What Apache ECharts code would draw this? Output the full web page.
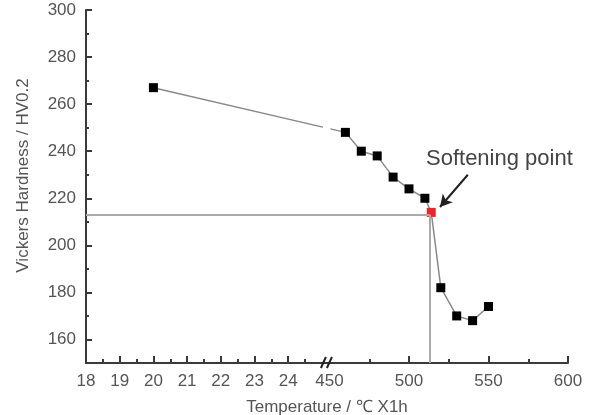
<!DOCTYPE html>
<html>
<head>
<meta charset="utf-8">
<script src="https://cdn.jsdelivr.net/npm/echarts@6/dist/echarts.min.js"></script>
<style>
  html, body { margin: 0; padding: 0; background: #fff; }
  #chart { width: 595px; height: 415px; }
</style>
</head>
<body>
<div id="chart"></div>
<script>
// temperature (°C) and hardness (HV0.2)
const temps = [20, 460, 470, 480, 490, 500, 510, 514, 520, 530, 540, 550]
const hardness = [267, 248, 240, 238, 229, 224, 220, 214, 182, 170, 168, 174]
const softIndex = 7
const softening = [513, 213]

const xMajorTicks = [19, 20, 21, 22, 23, 24, 500, 550, 600]
const xMinorTicks = [18.5, 19.5, 20.5, 21.5, 22.5, 23.5, 24.5, 475, 525, 575]
const xLabels = [18, 19, 20, 21, 22, 23, 24, 450, 500, 550, 600]
const yMajorTicks = [160, 180, 200, 220, 240, 260, 280, 300]
const yMinorTicks = [170, 190, 210, 230, 250, 270, 290]

// broken axis: 18-25 stretched, 450-600 compressed
function toU(t) {
  return t <= 25 ? (t - 18) * 33.7 : 243.5 + (t - 450) * 1.59
}
function fromU(u) {
  return u <= 240 ? u / 33.7 + 18 : (u - 243.5) / 1.59 + 450
}

const chart = echarts.init(document.getElementById('chart'))
const font = 'Liberation Sans, Arial, sans-serif'
const textColor = '#555'
const axisColor = '#3a3a3a'

const xBase = {
  type: 'value',
  min: 0,
  max: toU(600),
  position: 'bottom',
  splitLine: { show: false }
}
const yBase = {
  type: 'value',
  min: 150,
  max: 300,
  position: 'left',
  splitLine: { show: false }
}

chart.setOption({
  backgroundColor: '#fff',
  animation: false,
  grid: { left: 86, top: 10, width: toU(600), bottom: 52, outerBoundsMode: 'none', containLabel: false },
  xAxis: [
    Object.assign({}, xBase, {
      name: 'Temperature / ℃ X1h',
      nameLocation: 'middle',
      nameGap: 36,
      nameTextStyle: { fontSize: 17, color: textColor, fontFamily: font },
      axisLine: { lineStyle: { color: axisColor, width: 2 } },
      axisTick: {
        inside: true, length: 7,
        lineStyle: { color: axisColor, width: 2 },
        customValues: xMajorTicks.map(toU)
      },
      axisLabel: {
        fontSize: 17, color: textColor, fontFamily: font, margin: 10,
        customValues: xLabels.map(toU),
        formatter: v => String(Math.round(fromU(v)))
      }
    }),
    Object.assign({}, xBase, {
      axisLine: { show: false },
      axisLabel: { show: false },
      axisTick: {
        inside: true, length: 4,
        lineStyle: { color: axisColor, width: 2 },
        customValues: xMinorTicks.map(toU)
      }
    })
  ],
  yAxis: [
    Object.assign({}, yBase, {
      name: 'Vickers Hardness / HV0.2',
      nameLocation: 'middle',
      nameGap: 54,
      nameTextStyle: { fontSize: 17, color: textColor, fontFamily: font, padding: [0, 0, 0, 22] },
      axisLine: { lineStyle: { color: axisColor, width: 2 } },
      axisTick: {
        inside: true, length: 6,
        lineStyle: { color: axisColor, width: 2 },
        customValues: yMajorTicks
      },
      axisLabel: {
        fontSize: 17, color: textColor, fontFamily: font, margin: 10,
        customValues: yMajorTicks
      }
    }),
    Object.assign({}, yBase, {
      axisLine: { show: false },
      axisLabel: { show: false },
      axisTick: {
        inside: true, length: 3,
        lineStyle: { color: axisColor, width: 2 },
        customValues: yMinorTicks
      }
    })
  ],
  series: [
    {
      // guide lines to the softening point
      type: 'line',
      data: [],
      z: 1,
      markLine: {
        silent: true,
        symbol: 'none',
        label: { show: false },
        lineStyle: { color: '#aaa', width: 2, type: 'solid' },
        data: [
          [{ coord: [0, softening[1]] }, { coord: [toU(softening[0]), softening[1]] }],
          [{ coord: [toU(softening[0]), softening[1]] }, { coord: [toU(softening[0]), 150] }]
        ]
      }
    },
    {
      type: 'line',
      z: 3,
      data: temps.map((t, i) => {
        const d = { value: [toU(t), hardness[i]] }
        if (i === softIndex) d.itemStyle = { color: '#e8262b' }
        return d
      }),
      symbol: 'rect',
      symbolSize: 9,
      showAllSymbol: true,
      itemStyle: { color: '#000' },
      lineStyle: { color: '#8a8a8a', width: 1.5 },
      markLine: {
        silent: true,
        symbol: ['none', 'arrow'],
        symbolSize: [10, 12],
        label: { show: false },
        lineStyle: { color: '#222', width: 2, type: 'solid' },
        data: [
          [{ coord: [toU(537), 230] }, { coord: [toU(519.5), 216.3] }]
        ]
      }
    }
  ]
})

// axis break marks and the gap in the line
const pLeft = chart.convertToPixel({ xAxisIndex: 0, yAxisIndex: 0 }, [toU(25), 150])
const pRight = chart.convertToPixel({ xAxisIndex: 0, yAxisIndex: 0 }, [toU(450), 150])
const gapTop = chart.convertToPixel({ xAxisIndex: 0, yAxisIndex: 0 }, [toU(25), 254])
const gapBot = chart.convertToPixel({ xAxisIndex: 0, yAxisIndex: 0 }, [toU(25), 242])
const bx = pLeft[0] - 1
const by = pLeft[1]
chart.setOption({
  graphic: [
    {
      type: 'rect', z: 100,
      shape: { x: pLeft[0] + 1, y: gapTop[1], width: pRight[0] - pLeft[0], height: gapBot[1] - gapTop[1] },
      style: { fill: '#fff' }
    },
    {
      type: 'line', z: 100,
      shape: { x1: bx, y1: by + 5, x2: bx + 5, y2: by - 6 },
      style: { stroke: '#222', lineWidth: 2 }
    },
    {
      type: 'line', z: 100,
      shape: { x1: bx + 6, y1: by + 5, x2: bx + 11, y2: by - 6 },
      style: { stroke: '#222', lineWidth: 2 }
    },
    {
      type: 'text', z: 100,
      left: 426, top: 148,
      style: { text: 'Softening point', fontSize: 22, fill: '#444', fontFamily: font }
    }
  ]
})
</script>
</body>
</html>
